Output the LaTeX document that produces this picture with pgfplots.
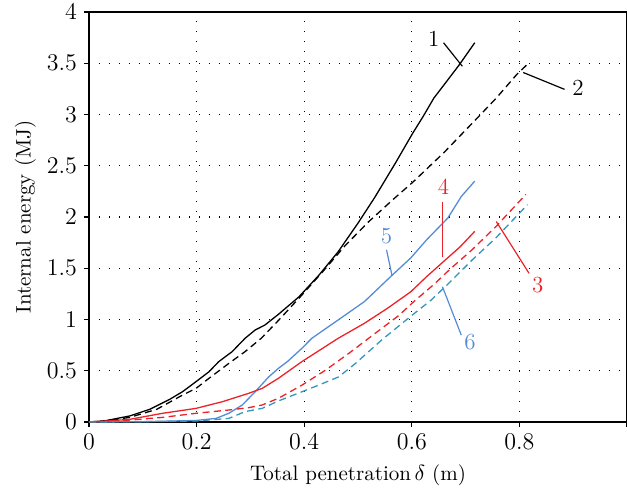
\documentclass[border=0pt]{standalone}
\usepackage{pgfplots}
\pgfplotsset{compat=1.18}
\definecolor{cred}{RGB}{235,35,40}
\definecolor{cblue}{RGB}{85,140,215}
\definecolor{cteal}{RGB}{50,150,190}
\begin{document}
\begin{tikzpicture}
\begin{axis}[
  scale only axis, width=269pt, height=205pt,
  xmin=0, xmax=1, ymin=0, ymax=4,
  xtick={0,0.2,0.4,0.6,0.8}, ytick={0,0.5,...,4},
  extra x ticks={1}, extra x tick labels={},
  extra x tick style={grid=none},
  xtick pos=left, ytick pos=left,
  tick align=outside, major tick length=2.5pt,
  axis line style={line width=0.7pt},
  tick style={line width=0.6pt, black},
  grid=major,
  major grid style={black, line width=0.6pt, dash pattern=on 0.5pt off 4.5pt},
  tick label style={font=\fontsize{11.5}{13}\selectfont},
  label style={font=\fontsize{10.5}{12}\selectfont},
  xlabel={Total penetration\,$\delta$ (m)},
  ylabel={Internal energy (MJ)},
  xlabel style={at={(axis description cs:0.5,0)}, anchor=north, yshift=-18pt},
  ylabel style={at={(axis description cs:0,0.5)}, anchor=south, yshift=23pt},
  every axis plot/.append style={line width=0.65pt},
  clip=false,
]
% 1 black solid
\addplot[black] coordinates {
(0,0) (0.03,0.012) (0.0757,0.059) (0.113,0.124) (0.15,0.221) (0.174,0.296) (0.199,0.394) (0.223,0.49) (0.241,0.588) (0.266,0.686) (0.29,0.816) (0.309,0.898) (0.327,0.946) (0.352,1.05) (0.39,1.22) (0.427,1.43) (0.463,1.66) (0.5,1.94) (0.531,2.19) (0.57,2.53) (0.602,2.82) (0.621,2.98) (0.641,3.16) (0.66,3.29) (0.689,3.49) (0.717,3.70)};
% 2 black dashed
\addplot[black, dash pattern=on 3.5pt off 2.2pt] coordinates {
(0,0) (0.03,0.01) (0.0757,0.045) (0.126,0.124) (0.174,0.263) (0.199,0.328) (0.223,0.426) (0.26,0.572) (0.29,0.686) (0.32,0.816) (0.352,0.99) (0.396,1.24) (0.435,1.47) (0.476,1.72) (0.519,1.95) (0.565,2.17) (0.602,2.34) (0.66,2.63) (0.717,2.94) (0.757,3.16) (0.795,3.39) (0.815,3.49)};
% 5 blue solid
\addplot[cblue] coordinates {
(0,0) (0.1,0.003) (0.199,0.015) (0.236,0.035) (0.26,0.085) (0.285,0.166) (0.309,0.296) (0.334,0.44) (0.352,0.523) (0.369,0.59) (0.396,0.72) (0.414,0.816) (0.463,0.995) (0.512,1.175) (0.561,1.42) (0.598,1.60) (0.628,1.78) (0.667,1.99) (0.692,2.2) (0.717,2.35)};
% 4 red solid
\addplot[cred] coordinates {
(0,0) (0.03,0.008) (0.0757,0.026) (0.137,0.085) (0.199,0.133) (0.248,0.198) (0.297,0.28) (0.322,0.328) (0.352,0.426) (0.396,0.59) (0.463,0.816) (0.512,0.963) (0.555,1.11) (0.598,1.27) (0.628,1.42) (0.66,1.57) (0.69,1.71) (0.717,1.86)};
% 3 red dashed
\addplot[cred, dash pattern=on 3.5pt off 2.2pt] coordinates {
(0,0) (0.06,0.012) (0.137,0.045) (0.199,0.085) (0.26,0.117) (0.297,0.14) (0.322,0.166) (0.352,0.231) (0.396,0.36) (0.44,0.507) (0.483,0.67) (0.532,0.865) (0.576,1.04) (0.607,1.19) (0.64,1.337) (0.673,1.50) (0.71,1.67) (0.757,1.91) (0.812,2.22)};
% 6 teal dashed
\addplot[cteal, dash pattern=on 3.5pt off 2.2pt] coordinates {
(0,0) (0.1,0.003) (0.2,0.01) (0.26,0.035) (0.29,0.101) (0.322,0.133) (0.352,0.205) (0.42,0.345) (0.464,0.44) (0.495,0.57) (0.544,0.80) (0.593,1.01) (0.636,1.19) (0.67,1.36) (0.712,1.58) (0.757,1.80) (0.815,2.12)};
% leader lines
\addplot[black, line width=0.6pt] coordinates {(0.659,3.70) (0.694,3.47)};
\addplot[black, line width=0.6pt] coordinates {(0.807,3.41) (0.884,3.245)};
\addplot[cred, line width=0.6pt] coordinates {(0.657,2.15) (0.657,1.61)};
\addplot[cblue, line width=0.6pt] coordinates {(0.553,1.68) (0.563,1.435)};
\addplot[cred, line width=0.6pt] coordinates {(0.757,1.956) (0.818,1.45)};
\addplot[cblue, line width=0.6pt] coordinates {(0.657,1.32) (0.692,0.847)};
\node[font=\fontsize{11.5}{13}\selectfont] at (axis cs:0.641,3.74) {1};
\node[font=\fontsize{11.5}{13}\selectfont] at (axis cs:0.909,3.26) {2};
\node[font=\fontsize{11.5}{13}\selectfont, text=cred] at (axis cs:0.834,1.34) {3};
\node[font=\fontsize{11.5}{13}\selectfont, text=cred] at (axis cs:0.659,2.30) {4};
\node[font=\fontsize{11.5}{13}\selectfont, text=cblue] at (axis cs:0.553,1.81) {5};
\node[font=\fontsize{11.5}{13}\selectfont, text=cblue] at (axis cs:0.708,0.78) {6};
\end{axis}
\pgfresetboundingbox
\path[use as bounding box] (-44.5pt,-34.5pt) rectangle (269pt,211pt);
\end{tikzpicture}
\end{document}
